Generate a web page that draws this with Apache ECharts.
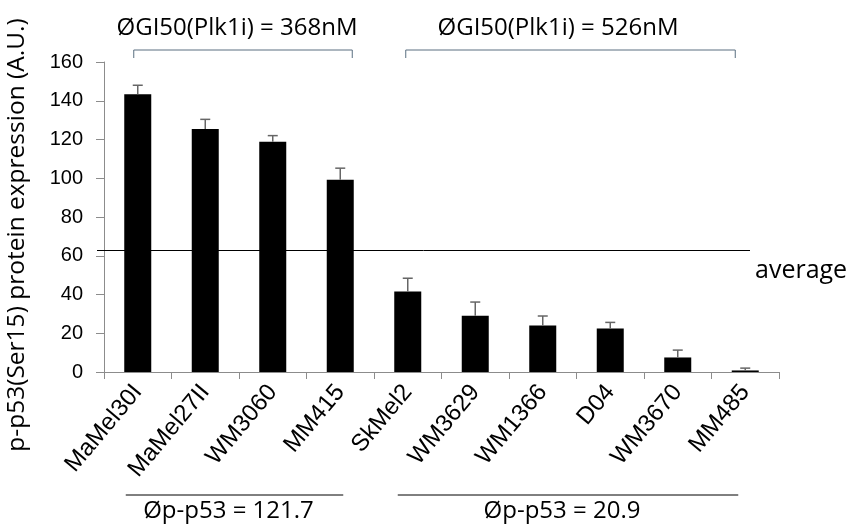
<!DOCTYPE html>
<html>
<head>
<meta charset="utf-8">
<script src="https://cdn.jsdelivr.net/npm/echarts@6/dist/echarts.min.js"></script>
<style>
  html, body { margin: 0; padding: 0; background: #fff; }
  #chart { width: 849px; height: 527px; }
</style>
</head>
<body>
<div id="chart"></div>
<script>
// Cell lines and p-p53(Ser15) expression (A.U.)
const cellLines = ['MaMel30I', 'MaMel27II', 'WM3060', 'MM415', 'SkMel2', 'WM3629', 'WM1366', 'D04', 'WM3670', 'MM485'];
const expression = [143.3, 125.4, 118.9, 99.2, 41.5, 29.0, 24.0, 22.5, 7.5, 0.8];
const errorUpper = [4.7, 5.0, 3.1, 6.0, 6.9, 7.1, 4.9, 3.1, 3.8, 1.2];
const averageLevel = 62.6;
const yTicks = [0, 20, 40, 60, 80, 100, 120, 140, 160];
const yTitle = 'p-p53(Ser15) protein expression (A.U.)';

// Group annotations: [first index, last index, text]
const gi50Groups = [
  { from: 0, to: 3, text: 'ØGI50(Plk1i) = 368nM' },
  { from: 4, to: 9, text: 'ØGI50(Plk1i) = 526nM' }
];
const p53Groups = [
  { from: 0, to: 3, text: 'Øp-p53 = 121.7' },
  { from: 4, to: 9, text: 'Øp-p53 = 20.9' }
];

const chart = echarts.init(document.getElementById('chart'));
const sans = '"Liberation Sans", Arial, sans-serif';
const soft = '"Open Sans", Lato, sans-serif';

const option = {
  animation: false,
  grid: { left: 104, right: 70, top: 62, bottom: 155 },
  xAxis: {
    type: 'category',
    data: cellLines,
    axisLine: { lineStyle: { color: '#8c8c8c', width: 1 } },
    axisTick: { show: true, alignWithLabel: false, length: 7, lineStyle: { color: '#8c8c8c' } },
    axisLabel: {
      rotate: 50, interval: 0, margin: 16,
      fontFamily: sans, fontSize: 24, color: '#000'
    }
  },
  yAxis: {
    type: 'value',
    min: 0, max: 160, interval: 20,
    axisLine: { show: true, lineStyle: { color: '#8c8c8c', width: 1 } },
    axisTick: { show: true, length: 8, lineStyle: { color: '#8c8c8c' } },
    splitLine: { show: false },
    axisLabel: {
      fontFamily: sans, fontSize: 20, color: '#000', margin: 21,
      formatter: v => (yTicks.indexOf(v) >= 0 ? String(v) : '')
    }
  },
  series: [
    {
      type: 'bar',
      data: expression,
      barWidth: 27,
      itemStyle: { color: '#000' },
      z: 2,
      markLine: {
        silent: true,
        symbol: 'none',
        label: { show: false },
        lineStyle: { color: '#000', width: 1, type: 'solid' },
        data: [[
          { coord: [0, averageLevel], x: 97 },
          { coord: [9, averageLevel], x: 750 }
        ]]
      }
    },
    {
      type: 'custom',
      z: 3,
      data: expression.map((v, i) => [i, v, v + errorUpper[i]]),
      renderItem: (params, api) => {
        const base = api.coord([api.value(0), api.value(1)]);
        const top = api.coord([api.value(0), api.value(2)]);
        const half = 5;
        const style = { stroke: '#666', lineWidth: 1.5 };
        return {
          type: 'group',
          children: [
            { type: 'line', shape: { x1: base[0], y1: base[1], x2: top[0], y2: top[1] }, style },
            { type: 'line', shape: { x1: top[0] - half, y1: top[1], x2: top[0] + half, y2: top[1] }, style }
          ]
        };
      }
    }
  ]
};
chart.setOption(option);

// Brackets, group labels and axis title placed from the scales
function px(idx, val) { return chart.convertToPixel({ xAxisIndex: 0, yAxisIndex: 0 }, [idx, val]); }
const graphics = [];
gi50Groups.forEach((g, k) => {
  const x1 = px(g.from, 0)[0] - (k === 0 ? 4 : 2);
  const x2 = px(g.to, 0)[0] + (k === 0 ? 12 : -10);
  const y = 50;
  graphics.push({
    type: 'polyline',
    shape: { points: [[x1, y + 8], [x1, y], [x2, y], [x2, y + 8]] },
    style: { stroke: '#5a6f80', lineWidth: 1, fill: null }
  });
  graphics.push({
    type: 'text',
    x: k === 0 ? 237 : 558, y: 28,
    style: { text: g.text, fontFamily: soft, fontSize: 24, fill: '#000', align: 'center', verticalAlign: 'middle' }
  });
});
p53Groups.forEach((g, k) => {
  const x1 = px(g.from, 0)[0] - (k === 0 ? 12 : 10);
  const x2 = px(g.to, 0)[0] - (k === 0 ? -3 : 7);
  const y = 495;
  graphics.push({
    type: 'line',
    shape: { x1, y1: y, x2, y2: y },
    style: { stroke: '#000', lineWidth: 1 }
  });
  graphics.push({
    type: 'text',
    x: (x1 + x2) / 2 - 6, y: 511,
    style: { text: g.text, fontFamily: soft, fontSize: 24, fill: '#000', align: 'center', verticalAlign: 'middle' }
  });
});
graphics.push({
  type: 'text', x: 755, y: 271,
  style: { text: 'average', fontFamily: soft, fontSize: 25, fill: '#000', align: 'left', verticalAlign: 'middle' }
});
graphics.push({
  type: 'text', x: 17, y: 235, rotation: Math.PI / 2,
  style: { text: yTitle, fontFamily: soft, fontSize: 24.5, fill: '#000', align: 'center', verticalAlign: 'middle' }
});
chart.setOption({ graphic: graphics });
</script>
</body>
</html>
